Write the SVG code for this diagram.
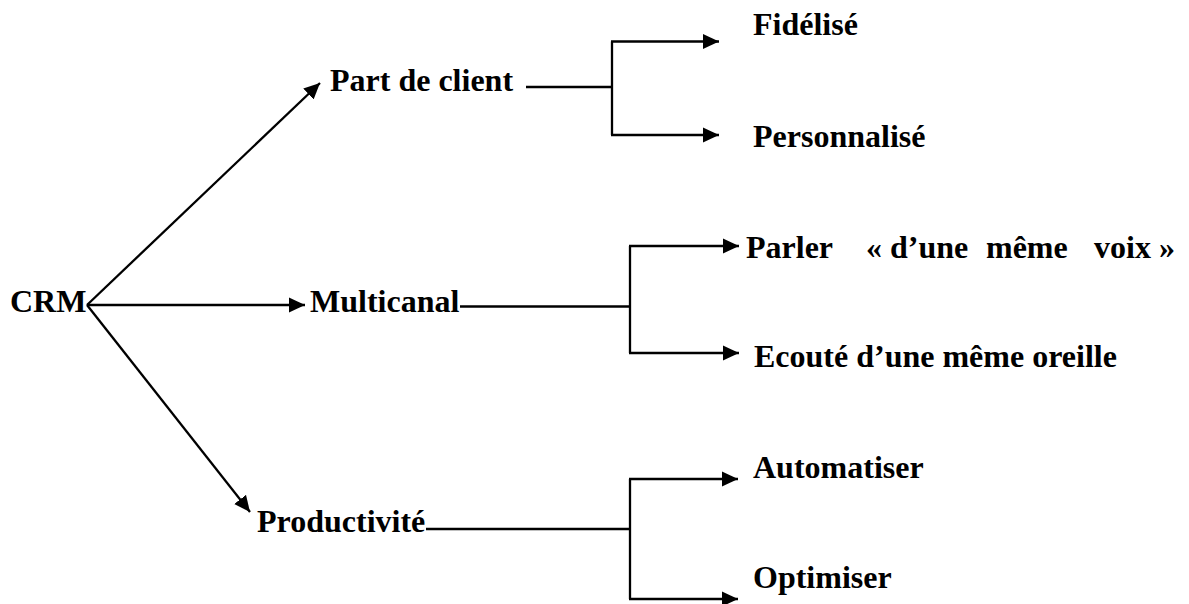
<svg xmlns="http://www.w3.org/2000/svg" width="1189" height="604" viewBox="0 0 1189 604">
  <style>
    .lbl { font-family: "Liberation Serif", "Times New Roman", serif; font-weight: bold; font-size: 32px; fill: #000; }
    .ln { stroke: #000; stroke-width: 2.3; fill: none; }
    .arr { stroke: #000; stroke-width: 2.3; fill: none; marker-end: url(#head); }
  </style>
  <defs>
    <marker id="head" markerUnits="userSpaceOnUse" markerWidth="17" markerHeight="16" refX="16" refY="8" orient="auto">
      <path d="M0,0.5 L16,8 L0,15.5 z" fill="#000"/>
    </marker>
  </defs>
  <rect width="1189" height="604" fill="#fff"/>

  <g id="connectors">
    <!-- CRM to the three branches -->
    <line class="arr" x1="87" y1="305" x2="320" y2="83"/>
    <line class="arr" x1="87" y1="305" x2="305" y2="305"/>
    <line class="arr" x1="87" y1="305" x2="250" y2="512"/>

    <!-- Part de client fork -->
    <line class="ln" x1="526" y1="87" x2="612" y2="87"/>
    <line class="ln" x1="612" y1="41.5" x2="612" y2="135"/>
    <line class="arr" x1="611" y1="41.5" x2="719" y2="41.5"/>
    <line class="arr" x1="611" y1="135" x2="719" y2="135"/>

    <!-- Multicanal fork -->
    <line class="ln" x1="460" y1="306.5" x2="630" y2="306.5"/>
    <line class="ln" x1="630" y1="246" x2="630" y2="353"/>
    <line class="arr" x1="629" y1="246" x2="739" y2="246"/>
    <line class="arr" x1="629" y1="353" x2="739" y2="353"/>

    <!-- Productivité fork -->
    <line class="ln" x1="426" y1="529" x2="630" y2="529"/>
    <line class="ln" x1="630" y1="479" x2="630" y2="599"/>
    <line class="arr" x1="629" y1="479" x2="738" y2="479"/>
    <line class="arr" x1="629" y1="599" x2="738" y2="599"/>
  </g>

  <g id="crm"><text class="lbl" x="10" y="312">CRM</text></g>
  <g id="part-de-client"><text class="lbl" x="330" y="91">Part de client</text></g>
  <g id="multicanal"><text class="lbl" x="310" y="312">Multicanal</text></g>
  <g id="productivite"><text class="lbl" x="257" y="532">Productivité</text></g>

  <g id="fidelise"><text class="lbl" x="753" y="35">Fidélisé</text></g>
  <g id="personnalise"><text class="lbl" x="753" y="147">Personnalisé</text></g>

  <g id="parler">
    <text class="lbl" y="258"><tspan x="746">Parler</tspan><tspan x="866">« d’une</tspan><tspan x="986">même</tspan><tspan x="1094">voix »</tspan></text>
  </g>
  <g id="ecoute"><text class="lbl" x="754" y="367">Ecouté d’une même oreille</text></g>

  <g id="automatiser"><text class="lbl" x="753" y="478">Automatiser</text></g>
  <g id="optimiser"><text class="lbl" x="753" y="588">Optimiser</text></g>
</svg>
